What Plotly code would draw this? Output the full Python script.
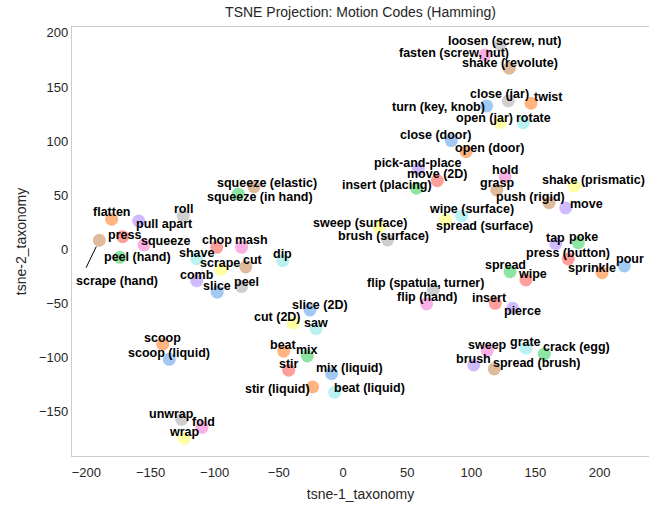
import plotly.graph_objects as go

# motion codes and their tsne coordinates
codes = [
    "flatten", "pull apart", "press", "scrape (hand)", "squeeze", "peel (hand)",
    "roll", "shave", "chop", "mash", "scrape", "cut", "comb", "slice", "peel",
    "squeeze (in hand)", "squeeze (elastic)", "slice (2D)", "cut (2D)", "saw",
    "beat", "mix", "stir", "mix (liquid)", "stir (liquid)", "beat (liquid)",
    "fold", "unwrap", "wrap", "scoop", "scoop (liquid)", "fasten (screw, nut)",
    "turn (key, knob)", "close (door)", "open (door)", "loosen (screw, nut)",
    "shake (revolute)", "close (jar)", "twist", "open (jar)", "rotate",
    "pick-and-place", "move (2D)", "insert (placing)", "wipe (surface)",
    "spread (surface)", "sweep (surface)", "brush (surface)", "dip", "hold",
    "grasp", "shake (prismatic)", "push (rigid)", "move", "tap", "poke",
    "press (button)", "sprinkle", "pour", "spread", "wipe",
    "flip (spatula, turner)", "flip (hand)", "insert", "pierce", "sweep",
    "grate", "crack (egg)", "brush", "spread (brush)",
]
tsne_1 = [
    -180.3, -159.2, -171.7, -189.9, -155.1, -173.8,
    -124.5, -114.0, -98.4, -79.0, -95.3, -75.8, -114.0, -98.0, -79.0,
    -81.6, -69.4, -25.7, -38.7, -21.0,
    -46.2, -27.8, -42.3, -8.8, -23.6, -6.5,
    -109.9, -125.7, -123.7, -140.5, -135.4, 110.7,
    112.0, 84.4, 95.9, 122.4,
    129.6, 128.8, 146.5, 122.4, 140.5,
    58.7, 73.5, 57.4, 92.5,
    80.0, 28.1, 34.8, -47.0, 126.3,
    119.8, 180.3, 160.6, 173.6, 165.8, 183.4,
    175.6, 201.9, 219.3, 130.2, 142.6,
    70.4, 65.2, 118.7, 132.3, 112.5,
    142.6, 156.9, 101.9, 117.9,
]
tsne_2 = [
    27.9, 26.3, 11.8, 8.5, 4.2, -7.2,
    30.9, -8.5, 2.0, 2.0, -18.3, -16.2, -28.8, -39.5, -34.3,
    51.0, 58.0, -55.9, -68.1, -73.1,
    -94.0, -98.3, -111.5, -114.7, -127.0, -131.9,
    -164.2, -156.8, -174.3, -87.5, -101.4, 179.6,
    132.5, 100.5, 90.3, 188.8,
    167.3, 137.1, 135.0, 117.1, 117.1,
    74.1, 63.5, 56.5, 30.9,
    27.2, 21.1, 8.8, -10.3, 67.2,
    54.9, 58.6, 43.2, 38.3, 5.4, 6.3,
    -8.8, -21.4, -15.2, -20.5, -28.2,
    -37.4, -50.3, -49.7, -54.3, -93.4,
    -91.2, -96.5, -106.6, -110.3,
]
hue = [
    "orange", "purple", "red", "brown", "pink", "green",
    "gray", "cyan", "red", "pink", "yellow", "brown", "purple", "blue", "gray",
    "green", "brown", "blue", "yellow", "cyan",
    "orange", "green", "red", "blue", "orange", "cyan",
    "pink", "gray", "yellow", "orange", "blue", "pink",
    "blue", "blue", "orange", "gray",
    "brown", "gray", "orange", "yellow", "cyan",
    "purple", "red", "green", "cyan",
    "yellow", "yellow", "gray", "cyan", "pink",
    "brown", "yellow", "brown", "purple", "purple", "green",
    "red", "orange", "blue", "green", "red",
    "gray", "pink", "red", "purple", "pink",
    "cyan", "green", "purple", "brown",
]

pastel = {
    "blue": "#a1c9f4", "orange": "#ffb482", "green": "#8de5a1", "red": "#ff9f9b",
    "purple": "#d0bbff", "brown": "#debb9b", "pink": "#fab0e4", "gray": "#cfcfcf",
    "yellow": "#fffea3", "cyan": "#b9f2f0",
}

# label offsets in pixels (dx right, dy down), like adjustText left them
label_shift = [
    (0, -7), (26, 3), (2, -2), (18, 41), (22, -4), (18, 0),
    (0, -7), (0, -6), (0, -7), (10, -7), (-1, -6), (7, -7), (0, -6), (0, -6), (5, -5),
    (22, 3), (13, -4), (10, -5), (-16, -6), (0, -6),
    (0, -6), (0, -6), (0, -6), (18, -6), (-35, 2), (35, -4),
    (2, -5), (-10, -5), (0, -6), (0, -6), (0, -6), (-31, -2),
    (-48, 1), (-15, -6), (23, -4), (4, -4),
    (1, -5), (-9, -7), (18, -6), (-16, -5), (10, -5),
    (0, -6), (0, -7), (-30, -3), (10, -7),
    (39, 6), (-19, -4), (-4, -4), (0, -7), (0, -7),
    (0, -7), (19, -6), (-19, -6), (21, -4), (0, -6), (5, -6),
    (0, -6), (-10, -5), (6, -7), (-5, -7), (7, -6),
    (-8, -7), (0, -7), (-6, -5), (10, 3), (0, -6),
    (0, -6), (32, -7), (0, -6), (43, -6),
]

font = "Liberation Sans, Arial"

fig = go.Figure()
fig.add_trace(go.Scatter(
    x=tsne_1, y=tsne_2, mode="markers",
    marker=dict(size=13, color=[pastel[h] for h in hue], line=dict(width=0)),
    hovertext=codes, showlegend=False,
))

for code, x, y, (dx, dy) in zip(codes, tsne_1, tsne_2, label_shift):
    fig.add_annotation(
        x=x, y=y, text=code, showarrow=False, xshift=dx, yshift=-dy,
        font=dict(family=font, size=12.5, color="black", weight="bold"),
    )

# connector for the one label that was pushed away
i = codes.index("scrape (hand)")
fig.add_annotation(
    x=tsne_1[i], y=tsne_2[i], text="", showarrow=True, arrowhead=0,
    arrowwidth=1, arrowcolor="black", ax=-14, ay=29, standoff=7,
)

axis_style = dict(
    showgrid=False, zeroline=False, showline=True, mirror=True,
    linecolor="#cccccc", linewidth=1.25, ticks="", automargin=False,
    tickfont=dict(family=font, size=13, color="#262626"),
)
fig.update_xaxes(axis_style, range=[-211.2, 238.5], tickvals=list(range(-200, 201, 50)),
                 ticklabelstandoff=4,
                 title=dict(text="tsne-1_taxonomy", standoff=10,
                            font=dict(family=font, size=14, color="#262626")))
fig.update_yaxes(axis_style, range=[-190.7, 205.4], tickvals=list(range(-150, 201, 50)),
                 title=dict(text="tsne-2_taxonomy", standoff=9,
                            font=dict(family=font, size=14, color="#262626")))

fig.update_layout(
    width=649, height=505,
    margin=dict(l=72, r=0, t=27, b=49),
    plot_bgcolor="white", paper_bgcolor="white",
    title=dict(text="TSNE Projection: Motion Codes (Hamming)", x=0.5, xref="paper",
               y=1 - 12 / 505, yref="container", yanchor="middle",
               font=dict(family=font, size=14, color="#262626")),
)

# page margin would push the figure 8px off the window corner
fig.write_html("out.html", config={"displayModeBar": False},
               post_script="document.body.style.margin='0';")
